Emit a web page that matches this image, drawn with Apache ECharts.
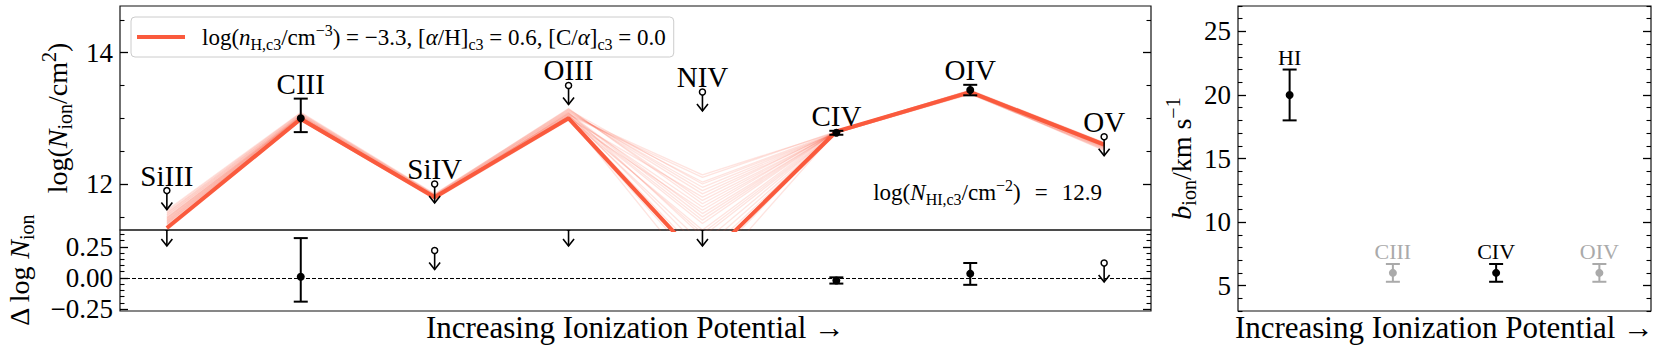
<!DOCTYPE html>
<html>
<head>
<meta charset="utf-8">
<title>ion column densities</title>
<script src="https://cdn.jsdelivr.net/npm/echarts@6.0.0/dist/echarts.min.js"></script>
<style>
  html, body { margin: 0; padding: 0; background: #fff; }
  #chart { width: 1661px; height: 351px; }
</style>
</head>
<body>
<div id="chart"></div>
<script>
// ions, ordered by ionization potential
var ions = ['SiIII', 'CIII', 'SiIV', 'OIII', 'NIV', 'CIV', 'OIV', 'OV'];
// measured log N (upper limits where upperLimit is true)
var logN = [11.9, 13.0, 12.0, 13.5, 13.4, 12.78, 13.43, 12.72];
var logNErrLo = [0, 0.21, 0, 0, 0, 0.03, 0.08, 0];
var logNErrHi = [0, 0.30, 0, 0, 0, 0.03, 0.08, 0];
var upperLimit = [true, false, true, true, true, false, false, true];

// best fit model and a set of posterior draws
var bestModel = [11.33, 12.99, 11.80, 13.00, 10.80, 12.80, 13.40, 12.60];
var modelSamples = [
  [11.45, 13.02, 11.80, 13.05, 12.10, 12.80, 13.40, 12.58],
  [11.40, 13.00, 11.79, 13.08, 12.03, 12.79, 13.41, 12.60],
  [11.52, 13.05, 11.82, 13.12, 11.90, 12.78, 13.38, 12.55],
  [11.35, 12.98, 11.78, 13.00, 11.80, 12.80, 13.42, 12.62],
  [11.58, 13.08, 11.84, 13.15, 11.70, 12.79, 13.39, 12.52],
  [11.30, 12.97, 11.77, 12.97, 11.60, 12.81, 13.43, 12.63],
  [11.48, 13.03, 11.81, 13.07, 11.50, 12.80, 13.40, 12.57],
  [11.42, 13.01, 11.80, 13.03, 11.40, 12.80, 13.41, 12.59],
  [11.55, 13.06, 11.83, 13.10, 11.95, 12.78, 13.37, 12.54],
  [11.33, 12.99, 11.79, 12.99, 11.30, 12.81, 13.42, 12.61],
  [11.50, 13.04, 11.82, 13.09, 11.20, 12.79, 13.39, 12.56],
  [11.38, 13.00, 11.78, 13.02, 11.10, 12.80, 13.41, 12.60],
  [11.46, 13.02, 11.81, 13.06, 11.00, 12.80, 13.40, 12.58],
  [11.60, 13.09, 11.85, 13.14, 11.75, 12.78, 13.38, 12.51],
  [11.36, 12.98, 11.78, 13.01, 10.90, 12.81, 13.42, 12.62],
  [11.44, 13.02, 11.80, 13.04, 11.65, 12.79, 13.40, 12.59],
  [11.53, 13.05, 11.83, 13.11, 11.85, 12.78, 13.38, 12.55],
  [11.32, 12.97, 11.77, 12.98, 10.70, 12.81, 13.43, 12.63],
  [11.49, 13.03, 11.81, 13.08, 11.55, 12.79, 13.39, 12.57],
  [11.41, 13.01, 11.79, 13.03, 11.25, 12.80, 13.41, 12.60],
  [11.56, 13.07, 11.84, 13.13, 12.00, 12.78, 13.37, 12.53],
  [11.39, 13.00, 11.79, 13.02, 10.50, 12.80, 13.41, 12.61],
  [11.47, 13.03, 11.81, 13.06, 12.14, 12.79, 13.39, 12.57],
  [11.43, 13.01, 11.80, 13.04, 11.45, 12.80, 13.40, 12.59]
];

// residuals data - model (off-scale limits sit just above the panel)
var resid = [0.41, 0.01, 0.22, 0.41, 0.41, -0.02, 0.035, 0.12];
var residErrLo = [0, 0.20, 0, 0, 0, 0.025, 0.09, 0];
var residErrHi = [0, 0.31, 0, 0, 0, 0.025, 0.085, 0];

// Doppler parameters
var bIons = ['HI', 'CIII', 'CIV', 'OIV'];
var bVals = [20, 6, 6, 6];
var bErr = [2, 0.7, 0.7, 0.7];
var bTied = [false, true, false, true];

var FONT = '"Liberation Serif", "DejaVu Serif", serif';
var RED = '#fa5a3d';

function richSet(size, gapWidth) {
  var s = Math.round(size * 0.7);
  var lh = Math.round(size * 1.3);
  return {
    n: { fontFamily: FONT, fontSize: size, lineHeight: lh, color: '#000' },
    i: { fontFamily: FONT, fontSize: size, fontStyle: 'italic', lineHeight: lh, color: '#000' },
    sub: { fontFamily: FONT, fontSize: s, verticalAlign: 'bottom', lineHeight: s, color: '#000' },
    sup: { fontFamily: FONT, fontSize: s, verticalAlign: 'top', lineHeight: s, color: '#000' },
    gap: { fontFamily: FONT, fontSize: size, width: gapWidth || 12, lineHeight: lh }
  };
}

// four y axes per panel: major/minor ticks on both sides
function yAxes(gridIndex, min, max, major, minor, fmt, name, nameGap) {
  var base = {
    type: 'value', gridIndex: gridIndex, min: min, max: max,
    axisLine: { show: false, onZero: false }, splitLine: { show: false }
  };
  var majTick = { show: true, inside: true, length: 8, customValues: major, lineStyle: { color: '#000', width: 1.3 } };
  var minTick = { show: true, inside: true, length: 4.5, customValues: minor, lineStyle: { color: '#000', width: 1.1 } };
  return [
    Object.assign({}, base, {
      position: 'left', axisTick: majTick,
      axisLabel: { customValues: major, formatter: fmt, fontFamily: FONT, fontSize: 27, color: '#000', margin: 7 },
      name: name, nameLocation: 'middle', nameRotate: 90, nameGap: nameGap,
      nameTextStyle: { fontFamily: FONT, fontSize: 28, color: '#000', rich: richSet(28) }
    }),
    Object.assign({}, base, { position: 'left', axisTick: minTick, axisLabel: { show: false } }),
    Object.assign({}, base, { position: 'right', axisTick: majTick, axisLabel: { show: false } }),
    Object.assign({}, base, { position: 'right', axisTick: minTick, axisLabel: { show: false } })
  ];
}

function xAxis(gridIndex, min, max, name) {
  return {
    type: 'value', gridIndex: gridIndex, min: min, max: max,
    axisLine: { show: false, onZero: false }, axisTick: { show: false }, axisLabel: { show: false },
    splitLine: { show: false },
    name: name || '', nameLocation: 'middle', nameGap: 0,
    nameTextStyle: { fontFamily: FONT, fontSize: 31, color: '#000', lineHeight: 32 }
  };
}

// error bars, upper-limit arrows and ion labels
function pointRenderer(labels, labelSize, labelGap) {
  return function (params, api) {
    var x = api.value(0), y = api.value(1);
    var lo = api.value(2), hi = api.value(3);
    var lim = api.value(4), tied = api.value(5);
    var color = tied ? '#aaaaaa' : '#000';
    var p = api.coord([x, y]);
    var kids = [];
    var anchor;
    if (lim) {
      var tip = p[1] + 19;
      kids.push({ type: 'line', shape: { x1: p[0], y1: p[1] + 3, x2: p[0], y2: tip },
        style: { stroke: color, lineWidth: 1.6 } });
      kids.push({ type: 'polyline', shape: { points: [[p[0] - 5.5, tip - 7], [p[0], tip], [p[0] + 5.5, tip - 7]] },
        style: { stroke: color, lineWidth: 1.6, fill: null } });
      kids.push({ type: 'circle', shape: { cx: p[0], cy: p[1], r: 3 },
        style: { fill: '#fff', stroke: color, lineWidth: 1.5 } });
      anchor = p[1];
    } else {
      var top = api.coord([x, y + hi]);
      var bot = api.coord([x, y - lo]);
      kids.push({ type: 'line', shape: { x1: p[0], y1: top[1], x2: p[0], y2: bot[1] },
        style: { stroke: color, lineWidth: 2 } });
      kids.push({ type: 'line', shape: { x1: p[0] - 7, y1: top[1], x2: p[0] + 7, y2: top[1] },
        style: { stroke: color, lineWidth: 2 } });
      kids.push({ type: 'line', shape: { x1: p[0] - 7, y1: bot[1], x2: p[0] + 7, y2: bot[1] },
        style: { stroke: color, lineWidth: 2 } });
      kids.push({ type: 'circle', shape: { cx: p[0], cy: p[1], r: 4 }, style: { fill: color } });
      anchor = top[1];
    }
    if (labels) {
      kids.push({ type: 'text', x: p[0], y: anchor - labelGap,
        style: { text: labels[params.dataIndex], fontFamily: FONT, fontSize: labelSize,
          fill: color, align: 'center', verticalAlign: 'middle' } });
    }
    return { type: 'group', children: kids };
  };
}

var topPoints = ions.map(function (n, i) {
  return [i, logN[i], logNErrLo[i], logNErrHi[i], upperLimit[i] ? 1 : 0, 0];
});
var residPoints = ions.map(function (n, i) {
  return [i, resid[i], residErrLo[i], residErrHi[i], upperLimit[i] ? 1 : 0, 0];
});
var bPoints = bIons.map(function (n, i) {
  return [i, bVals[i], bErr[i], bErr[i], 0, bTied[i] ? 1 : 0];
});

var series = modelSamples.map(function (row) {
  return {
    type: 'line', xAxisIndex: 0, yAxisIndex: 0, silent: true, symbol: 'none',
    data: row.map(function (v, i) { return [i, v]; }),
    lineStyle: { color: 'rgba(250,90,61,0.16)', width: 1.3 }, z: 2
  };
});
series.push({
  name: 'best', type: 'line', xAxisIndex: 0, yAxisIndex: 0, silent: true, symbol: 'none',
  data: bestModel.map(function (v, i) { return [i, v]; }),
  lineStyle: { color: RED, width: 4 }, itemStyle: { color: RED }, z: 3
});
series.push({
  type: 'custom', xAxisIndex: 0, yAxisIndex: 0, clip: true, z: 5,
  data: topPoints, encode: { x: 0, y: 1 },
  renderItem: pointRenderer(ions, 29, 15)
});
series.push({
  type: 'custom', xAxisIndex: 1, yAxisIndex: 4, clip: true, z: 5,
  data: residPoints, encode: { x: 0, y: 1 },
  renderItem: pointRenderer(null, 0, 0),
  markLine: {
    silent: true, symbol: 'none', label: { show: false },
    lineStyle: { color: '#000', width: 1, type: [4, 2] },
    data: [{ yAxis: 0 }]
  }
});
series.push({
  type: 'custom', xAxisIndex: 2, yAxisIndex: 8, clip: true, z: 5,
  data: bPoints, encode: { x: 0, y: 1 },
  renderItem: pointRenderer(bIons, 22, 12)
});

var legendText = '{gap| }{n|log(}{i|n}{sub|H,c3}{n|/cm}{sup|\u22123}{n|) = \u22123.3, [}{i|\u03b1}{n|/H]}{sub|c3}' +
  '{n| = 0.6, [C/}{i|\u03b1}{n|]}{sub|c3}{n| = 0.0}';

var gridStyle = { show: true, borderColor: '#111', borderWidth: 1.2, backgroundColor: 'transparent', outerBoundsMode: 'none' };

var option = {
  animation: false,
  backgroundColor: '#fff',
  grid: [
    Object.assign({ left: 120, top: 6, width: 1031, height: 224 }, gridStyle),
    Object.assign({ left: 120, top: 230, width: 1031, height: 81 }, gridStyle),
    Object.assign({ left: 1238, top: 6, width: 413, height: 305 }, gridStyle)
  ],
  xAxis: [
    xAxis(0, -0.35, 7.35),
    xAxis(1, -0.35, 7.35, 'Increasing Ionization Potential \u2192'),
    xAxis(2, -0.5, 3.5, 'Increasing Ionization Potential \u2192')
  ],
  yAxis: [].concat(
    yAxes(0, 11.3, 14.71, [12, 14], [11.5, 12.5, 13, 13.5, 14.5],
      function (v) { return String(v); },
      '{n|log(}{i|N}{sub|ion}{n|/cm}{sup|2}{n|)}', 35),
    yAxes(1, -0.265, 0.385, [-0.25, 0, 0.25],
      [-0.2, -0.15, -0.1, -0.05, 0.05, 0.1, 0.15, 0.2, 0.3, 0.35],
      function (v) { return (v < 0 ? '\u2212' : '') + Math.abs(v).toFixed(2); },
      '{n|\u0394 log }{i|N}{sub|ion}', 83),
    yAxes(2, 3, 27, [5, 10, 15, 20, 25],
      [3, 4, 6, 7, 8, 9, 11, 12, 13, 14, 16, 17, 18, 19, 21, 22, 23, 24, 26, 27],
      function (v) { return String(v); },
      '{i|b}{sub|ion}{n|/km s}{sup|\u22121}', 39)
  ),
  legend: {
    data: ['best'], left: 131, top: 17, selectedMode: false,
    icon: 'rect', itemWidth: 48, itemHeight: 4,
    padding: [5, 8, 5, 6],
    backgroundColor: 'rgba(255,255,255,0.8)', borderColor: '#cccccc', borderWidth: 1, borderRadius: 4,
    formatter: function () { return legendText; },
    textStyle: { fontFamily: FONT, fontSize: 23, color: '#000', rich: richSet(23, 12) }
  },
  graphic: [{
    type: 'text', x: 1102, y: 192, silent: true,
    style: {
      text: '{n|log(}{i|N}{sub|HI,c3}{n|/cm}{sup|\u22122}{n|)}{gap| }{n|=}{gap| }{n|12.9}',
      rich: richSet(23, 14), fontFamily: FONT, fontSize: 23, fill: '#000',
      align: 'right', verticalAlign: 'middle'
    }
  }],
  series: series
};

var chart = echarts.init(document.getElementById('chart'), null, { renderer: 'svg' });
chart.setOption(option);
</script>
</body>
</html>
